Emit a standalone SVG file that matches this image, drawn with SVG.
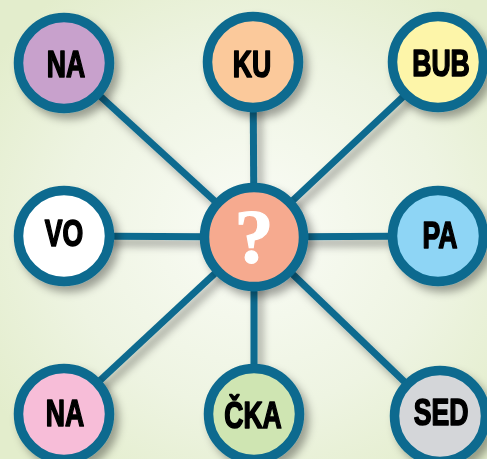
<svg xmlns="http://www.w3.org/2000/svg" width="487" height="459" viewBox="0 0 487 459">
<defs>
<radialGradient id="bg" cx="0.52" cy="0.5" r="0.65">
<stop offset="0" stop-color="#fafcf6"/>
<stop offset="0.6" stop-color="#eef4e2"/>
<stop offset="1" stop-color="#e3edcc"/>
</radialGradient>
<filter id="sh" x="-30%" y="-30%" width="160%" height="160%">
<feDropShadow dx="5" dy="6" stdDeviation="4" flood-color="#000" flood-opacity="0.35"/>
</filter>
<style>
.ring{stroke:#0b6a8f;stroke-width:9.5}
.conn line{stroke:#0b6a8f;stroke-width:7}
.lbl{font-family:"Liberation Sans",Arial,sans-serif;font-weight:bold;font-size:37px;fill:#000;stroke:#000;stroke-width:1.6;stroke-linejoin:round;text-anchor:middle}
.q{font-family:"Liberation Serif","Times New Roman",serif;font-weight:bold;font-size:78px;fill:#fff;stroke:#fff;stroke-width:1.2;text-anchor:middle}
</style>
</defs>
<rect width="487" height="459" fill="url(#bg)"/>
<g id="connectors" class="conn" filter="url(#sh)">
<line x1="254" y1="237" x2="64" y2="63"/>
<line x1="254" y1="237" x2="253" y2="62"/>
<line x1="254" y1="237" x2="440" y2="62"/>
<line x1="254" y1="237" x2="64" y2="236"/>
<line x1="254" y1="237" x2="439" y2="236"/>
<line x1="254" y1="237" x2="64" y2="414"/>
<line x1="254" y1="237" x2="254" y2="414"/>
<line x1="254" y1="237" x2="440" y2="416"/>
</g>
<g id="n-na-top" filter="url(#sh)">
<circle class="ring" cx="64" cy="63" r="45.5" fill="#c8a1cc"/>
<text class="lbl" transform="translate(66 77) scale(0.72 1)">NA</text>
</g>
<g id="n-ku" filter="url(#sh)">
<circle class="ring" cx="253" cy="62" r="45.5" fill="#fbc99b"/>
<text class="lbl" transform="translate(252 77) scale(0.72 1)">KU</text>
</g>
<g id="n-bub" filter="url(#sh)">
<circle class="ring" cx="438" cy="62" r="45.5" fill="#fdf5a9"/>
<text class="lbl" transform="translate(441 76) scale(0.72 1)">BUB</text>
</g>
<g id="n-vo" filter="url(#sh)">
<circle class="ring" cx="64" cy="236" r="45.5" fill="#ffffff"/>
<text class="lbl" transform="translate(64 246) scale(0.72 1)">VO</text>
</g>
<g id="n-q" filter="url(#sh)">
<circle class="ring" cx="254" cy="237" r="49.5" fill="#f6aa8f"/>
<text class="q" x="254" y="263">?</text>
</g>
<g id="n-pa" filter="url(#sh)">
<circle class="ring" cx="438" cy="236" r="45.5" fill="#8ed5f5"/>
<text class="lbl" transform="translate(440 248) scale(0.72 1)">PA</text>
</g>
<g id="n-na-bottom" filter="url(#sh)">
<circle class="ring" cx="64" cy="414" r="45.5" fill="#f7bdd8"/>
<text class="lbl" transform="translate(65 426) scale(0.72 1)">NA</text>
</g>
<g id="n-cka" filter="url(#sh)">
<circle class="ring" cx="254" cy="414" r="45.5" fill="#cfe5b2"/>
<text class="lbl" transform="translate(253 428) scale(0.72 1)">ČKA</text>
</g>
<g id="n-sed" filter="url(#sh)">
<circle class="ring" cx="440" cy="416" r="45.5" fill="#d4d6d9"/>
<text class="lbl" transform="translate(441 425) scale(0.72 1)">SED</text>
</g>
</svg>
